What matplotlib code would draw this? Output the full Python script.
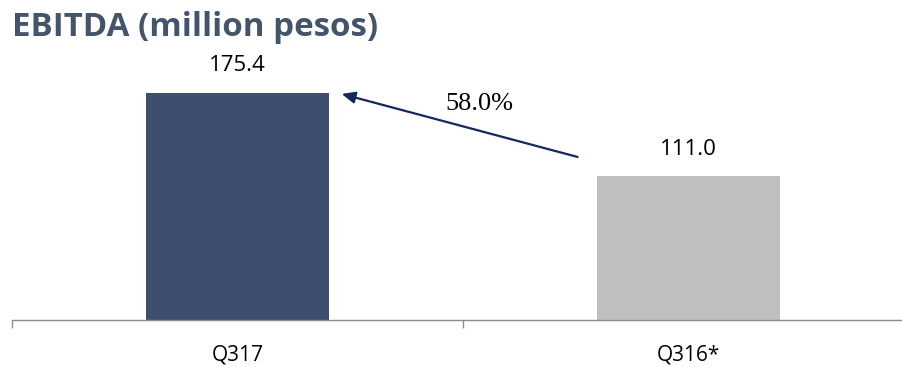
import matplotlib
matplotlib.use("Agg")
import matplotlib.pyplot as plt

categories = ["Q317", "Q316*"]
values = [175.4, 111.0]
colors = ["#3F4D6E", "#BFBFBF"]
growth_label = "58.0%"

W, H = 903, 367
fig = plt.figure(figsize=(W / 100, H / 100), dpi=100)

# axes spans from the left edge past the right edge of the figure
x0_px, x1_px = 12, 914
base_px = 320
top_px = 61.2
ax = fig.add_axes([x0_px / W, (H - base_px) / H, (x1_px - x0_px) / W, (base_px - top_px) / H])
ax.set_xlim(-0.5, 1.5)
ax.set_ylim(0, 200)

xs = list(range(len(categories)))
ax.bar(xs, values, width=0.405, color=colors, zorder=2)

# value labels above the bars (offset in points)
for x, v in zip(xs, values):
    ax.annotate(f"{v:.1f}", xy=(x, v), xytext=(0, 19.5), textcoords="offset points",
                ha="center", va="center", fontsize=16, family="Open Sans", color="#000000")

# growth arrow from the second bar to the first
ax.annotate("", xy=(0.231, 174.7), xytext=(0.754, 126),
            arrowprops=dict(arrowstyle="-|>,head_length=0.8,head_width=0.35",
                            color="#14285E", lw=1.6, shrinkA=0, shrinkB=0))
ax.text(0.537, 167, growth_label, ha="center", va="center",
        fontsize=19, family="Liberation Serif", color="#000000")

for s in ["top", "right", "left"]:
    ax.spines[s].set_visible(False)
ax.spines["bottom"].set_color("#8C8C8C")
ax.spines["bottom"].set_linewidth(1.0)
ax.set_yticks([])
ax.set_xticks([-0.5, 0.5, 1.5])
ax.set_xticklabels([])
ax.tick_params(axis="x", which="major", length=5.5, color="#8C8C8C", width=1.0, direction="out")

# category labels below the axis
for x, c in zip(xs, categories):
    ax.annotate(c, xy=(x, 0), xycoords=("data", "axes fraction"), xytext=(0, -25),
                textcoords="offset points", ha="center", va="center",
                fontsize=15, family="Open Sans", color="#000000")

fig.text(12 / W, 1 - 27 / H, "EBITDA (million pesos)", ha="left", va="center",
         fontsize=23.8, fontweight="bold", family="Open Sans", color="#44546A")

fig.savefig("out.png", dpi=100)
